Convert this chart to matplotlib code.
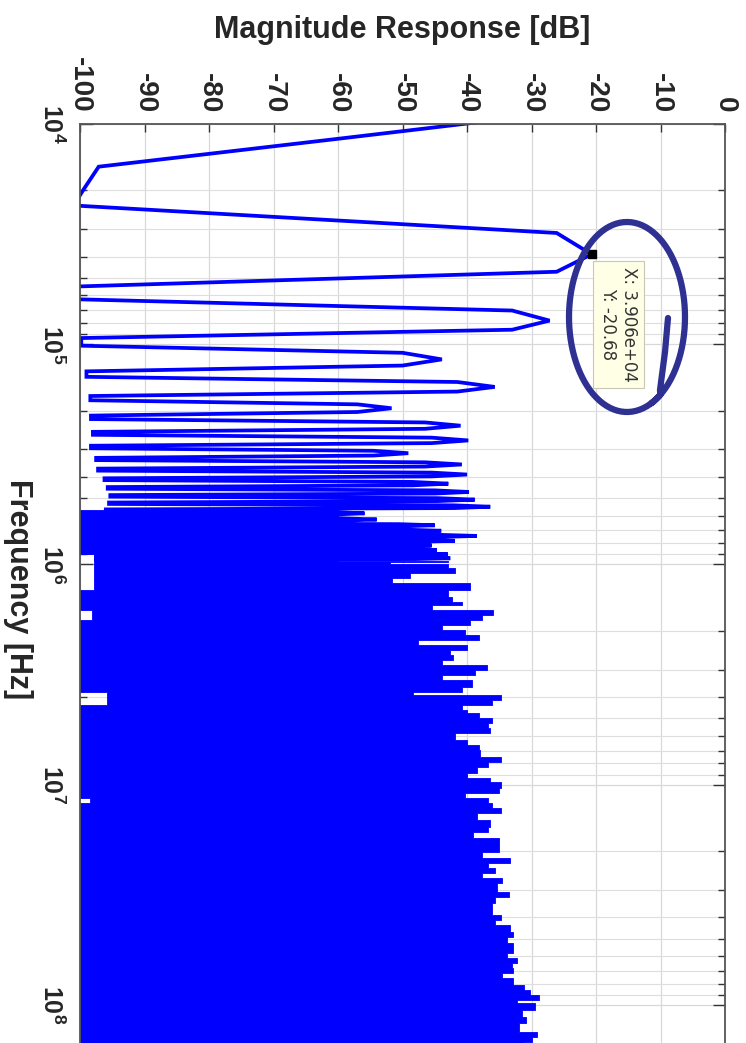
import numpy as np
import matplotlib
matplotlib.use("Agg")
import matplotlib.pyplot as plt
from matplotlib.lines import Line2D
from matplotlib.ticker import FixedLocator, LogLocator, NullFormatter, FuncFormatter

plt.rcParams['font.family'] = ['Liberation Sans', 'DejaVu Sans']
plt.rcParams['mathtext.fontset'] = 'custom'
plt.rcParams['mathtext.rm'] = 'Liberation Sans'
plt.rcParams['mathtext.bf'] = 'Liberation Sans:bold'

# FFT bin spacing [Hz]
bin_hz = 3906.25

# first bins before the first harmonic
lead_bins = [2, 3, 4, 5]
lead_db = [-9.6, -60.5, -97.1, -99.3]

# harmonics every 10 bins (39.06 kHz): peak, value 2 bins either side, gap level between harmonics
peak_db = [-20.68, -27.2, -43.9, -35.7, -51.7, -41.0, -39.8, -49.1, -40.8, -40.0, -42.9, -39.7,
           -38.8, -36.4, -55.9, -54.0, -45.0, -44.0, -38.5, -41.9, -45.5, -44.7, -43.0, -42.6]
shoulder_db = [-26.1, -33.0, -50.0, -41.5, -57.0, -46.5, -45.5, -54.5, -46.5, -45.5, -48.5, -45.0,
               -44.5, -42.0, -61.0, -59.5, -50.5, -49.5, -44.0, -47.5, -51.0, -50.0, -48.5, -48.0]
gap_db = [-101.0, -100.5, -99.8, -99.0, -98.4, -98.3, -98.0, -98.3, -97.5, -97.2, -96.2, -95.7,
          -95.3, -95.5, -96.0, -98.5, -102.0, -102.0, -102.0, -102.0, -102.0, -102.0, -102.0,
          -97.5, -97.5]

# dense part above ~0.57 MHz: upper envelope of the spikes
env_freq = [5.66e5, 9.00e5,
            9.60e5, 9.72e5, 9.95e5, 1.038e6, 1.094e6, 1.153e6, 1.215e6, 1.307e6, 1.402e6, 1.477e6,
            1.529e6, 1.611e6, 1.698e6, 1.789e6, 1.885e6, 1.986e6, 2.093e6, 2.205e6, 2.323e6, 2.447e6,
            2.579e6, 2.718e6, 2.863e6, 3.017e6, 3.179e6, 3.350e6, 3.593e6, 3.785e6, 3.918e6, 4.128e6,
            4.350e6, 4.584e6, 4.745e6, 4.984e6, 5.252e6, 5.534e6, 5.830e6, 6.275e6, 6.612e6, 6.966e6,
            7.470e6, 7.870e6, 8.293e6, 8.857e6, 9.333e6, 9.70e6, 1.036e7, 1.092e7, 1.151e7, 1.212e7,
            1.277e7, 1.346e7, 1.448e7, 1.553e7, 1.637e7, 1.748e7, 1.914e7, 2.017e7, 2.154e7, 2.270e7,
            2.392e7, 2.521e7, 2.656e7, 2.799e7, 3.065e7, 3.229e7, 3.450e7, 3.711e7, 3.910e7, 4.120e7,
            4.342e7, 4.656e7, 4.906e7, 5.240e7, 5.521e7, 5.820e7, 6.132e7, 6.461e7, 6.808e7, 7.173e7,
            7.557e7, 8.130e7, 8.566e7, 9.027e7, 9.511e7, 9.813e7, 1.056e8, 1.132e8, 1.210e8, 1.325e8,
            1.396e8, 1.471e8, 1.65e8]
env_db = [-60.0, -60.0,
          -42.9, -52.0, -42.9, -41.9, -48.9, -51.7, -39.5, -42.9, -42.4, -40.8,
          -45.5, -35.9, -37.7, -39.5, -43.9, -40.3, -38.2, -47.6, -40.0, -42.6,
          -42.1, -43.9, -36.9, -38.7, -43.9, -39.3, -40.8, -48.3, -34.8, -36.1,
          -40.8, -40.0, -38.2, -36.1, -36.7, -36.4, -41.9, -40.0, -38.2, -38.0,
          -34.8, -36.7, -38.5, -40.0, -36.4, -34.8, -35.1, -40.3, -36.7, -36.1,
          -34.8, -38.5, -36.4, -36.7, -39.0, -35.1, -35.1, -37.7, -33.3, -36.7,
          -35.6, -37.7, -34.6, -35.4, -33.5, -35.6, -36.1, -36.1, -34.8, -35.6,
          -33.3, -32.8, -33.8, -32.8, -32.8, -33.8, -32.2, -33.0, -32.8, -34.6,
          -32.8, -31.2, -30.2, -28.9, -32.2, -29.4, -31.5, -30.9, -32.0, -29.1,
          -29.9, -31.2, -31.2]
# lower level of the dense part (mostly below the -100 dB limit)
floor_freq = [5.6e5, 9.0e5, 1.25e6, 1.611e6, 1.752e6, 3.641e6, 4.173e6, 1.103e7, 1.163e7]
floor_db = [-110.0, -97.8, -110.0, -98.2, -110.0, -95.8, -110.0, -98.5, -110.0]

# data tip
tip_f = 3.906e4
tip_db = -20.68

# build harmonic polyline
bins = list(lead_bins)
mag = list(lead_db)
for m in range(1, len(peak_db) + 1):
    c = 10 * m
    bins += [c - 4, c - 2, c, c + 2, c + 4]
    mag += [gap_db[m - 1], shoulder_db[m - 1], peak_db[m - 1], shoulder_db[m - 1], gap_db[m]]
freq = np.array(bins) * bin_hz
mag = np.array(mag)

env_freq = np.array(env_freq)
env_db = np.array(env_db)
idx = np.searchsorted(floor_freq, env_freq, side='right') - 1
env_low = np.array(floor_db)[idx]

W, H = 746, 1043
fig = plt.figure(figsize=(W / 100, H / 100), dpi=100)
ax = fig.add_axes([80 / W, (H - 1052) / H, 645 / W, 928 / H])

ax.fill_betweenx(env_freq, env_low, env_db, step='post', color='#0000ff', lw=0.6)
ax.plot(mag, freq, color='#0000ff', lw=2.7, solid_joinstyle='miter')

ax.set_yscale('log')
ax.set_xlim(-100, 0)
ax.set_ylim(10 ** 8.214, 1e4)

# ticks
ax.xaxis.tick_top()
ax.set_xticks(np.arange(-100, 1, 10))
ax.set_xticklabels([str(v) for v in range(-100, 1, 10)], rotation=270, fontweight='bold',
                   fontsize=20, color='#262626')
ax.yaxis.set_major_locator(FixedLocator([1e4, 1e5, 1e6, 1e7, 1e8]))
ax.yaxis.set_minor_locator(LogLocator(base=10, subs=np.arange(2, 10)))
ax.yaxis.set_minor_formatter(NullFormatter())
ax.yaxis.set_major_formatter(FuncFormatter(lambda v, p: r'$\mathbf{10^{%d}}$' % round(np.log10(v))))
for t in ax.get_yticklabels():
    t.set_rotation(270)
    t.set_fontsize(18)
    t.set_color('#262626')
    t.set_va('center')
ax.tick_params(axis='x', which='both', direction='in', top=True, bottom=False,
               labeltop=True, labelbottom=False, length=6, width=1, pad=8, color='#333333')
ax.tick_params(axis='y', which='major', direction='in', left=True, right=True, length=9,
               width=1, pad=11, color='#333333')
ax.tick_params(axis='y', which='minor', direction='in', left=True, right=True, length=5,
               width=1, color='#333333')

ax.grid(True, which='major', color='#d8d8d8', lw=0.9)
ax.grid(True, which='minor', axis='y', color='#dedede', lw=0.8)
ax.set_axisbelow(True)
for s in ax.spines.values():
    s.set_color('#555555')
    s.set_linewidth(1.3)

ax.set_xlabel('Magnitude Response [dB]', fontsize=22, fontweight='bold', color='#262626')
ax.xaxis.set_label_position('top')
ax.xaxis.label.set_va('center')
ax.xaxis.set_label_coords(0.5, (1052 - 30) / 928)
ax.set_ylabel('Frequency [Hz]', fontsize=22, fontweight='bold', color='#262626',
              rotation=270, va='center', ha='center', rotation_mode='default')
ax.yaxis.set_label_coords((18 - 80) / 645, (1052 - 589) / 928)

# data tip
ax.plot([tip_db], [tip_f], 's', color='black', ms=6, clip_on=False)
ax.annotate('X: %.3e\nY: %.2f' % (tip_f, tip_db), xy=(tip_db, tip_f), xytext=(27, -70),
            textcoords='offset pixels', rotation=270, ha='center', va='center', fontsize=12,
            color='#333333', linespacing=1.2, family='DejaVu Sans',
            bbox=dict(boxstyle='square,pad=0.35', fc='#ffffe6', ec='#c8c8b4', lw=0.8))

# hand drawn circle around the data tip (figure pixel coordinates)
th = np.radians(np.linspace(55, 425, 200))
cx, cy, rx, ry = 627, 317, 58, 95
xs = np.concatenate([[668, 665, 660], cx + rx * np.cos(th)])
ys = np.concatenate([[318, 352, 390], cy + ry * np.sin(th)])
fig.add_artist(Line2D(xs / W, 1 - ys / H, transform=fig.transFigure, color='#2e3192', lw=4.5,
                      solid_capstyle='round', solid_joinstyle='round'))

fig.savefig('out.png', dpi=100, facecolor='white')
